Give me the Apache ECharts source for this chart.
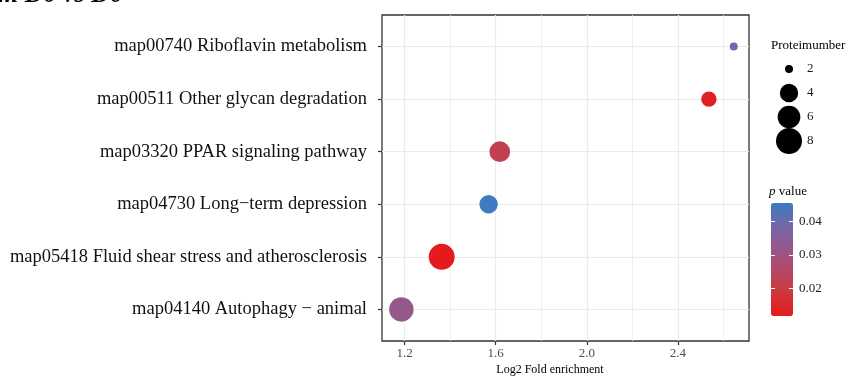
<!DOCTYPE html>
<html>
<head>
<meta charset="utf-8">
<script src="https://cdn.jsdelivr.net/npm/echarts@6/dist/echarts.min.js"></script>
<style>
  html, body { margin: 0; padding: 0; background: #fff; }
  #main { width: 854px; height: 376px; }
</style>
</head>
<body>
<div id="main"></div>
<script>
// pathways, top row first
var pathways = [
  'map00740 Riboflavin metabolism',
  'map00511 Other glycan degradation',
  'map03320 PPAR signaling pathway',
  'map04730 Long\u2212term depression',
  'map05418 Fluid shear stress and atherosclerosis',
  'map04140 Autophagy \u2212 animal'
];
var foldEnrichment = [2.645, 2.536, 1.618, 1.569, 1.363, 1.186];
var pValues = [0.0381, 0.0134, 0.0219, 0.0456, 0.0117, 0.0322];
var proteinNumbers = [2, 3, 5, 4, 8, 7];

var xMajorTicks = [1.2, 1.6, 2.0, 2.4];
var xMinorTicks = [1.4, 1.8, 2.2, 2.6];
var legendNumbers = [2, 4, 6, 8];
var pTicks = [0.02, 0.03, 0.04];

var serif = 'Liberation Serif';
var pMin = Math.min.apply(null, pValues);
var pMax = Math.max.apply(null, pValues);
var nMin = 2, nMax = 8;

// ggplot-like area scale
function dotSize(n) {
  return 8 + 18 * Math.sqrt((n - nMin) / (nMax - nMin));
}

var n = pathways.length;
var points = [];
for (var i = 0; i < n; i++) {
  points.push([foldEnrichment[i], n - i, pValues[i], proteinNumbers[i]]);
}
var rowIdx = [];
for (var i = 1; i <= n; i++) rowIdx.push(i);

var chart = echarts.init(document.getElementById('main'));
chart.setOption({
  animation: false,
  grid: [{
    left: 382, top: 15, width: 367, height: 326,
    show: true, borderColor: '#333', borderWidth: 1.3, backgroundColor: '#fff'
  }, {
    // size legend
    left: 779, top: 57, width: 20, height: 96, show: false
  }, {
    // colorbar ticks
    left: 771, top: 203, width: 22, height: 113, show: false
  }],
  xAxis: [{
    gridIndex: 0, type: 'value', min: 1.101, max: 2.712,
    axisLine: { show: false },
    axisTick: { customValues: xMajorTicks, length: 4, lineStyle: { color: '#333', width: 1.2 } },
    axisLabel: { customValues: xMajorTicks, formatter: function (v) { return v.toFixed(1); },
      fontFamily: serif, fontSize: 13, color: '#4d4d4d', margin: 6 },
    splitLine: { show: true, lineStyle: { color: '#ebebeb', width: 1.2 } }
  }, {
    gridIndex: 0, type: 'value', min: 1.101, max: 2.712, position: 'bottom',
    axisLine: { show: false },
    axisTick: { show: false, customValues: xMinorTicks },
    axisLabel: { show: false, customValues: xMinorTicks },
    splitLine: { show: true, lineStyle: { color: '#ebebeb', width: 0.8 } }
  }, {
    gridIndex: 1, type: 'value', min: 0, max: 2, show: false
  }, {
    gridIndex: 2, type: 'value', min: 0, max: 1, show: false
  }],
  yAxis: [{
    gridIndex: 0, type: 'value', min: 0.4, max: n + 0.6,
    axisLine: { show: false },
    axisTick: { customValues: rowIdx, length: 4, lineStyle: { color: '#333', width: 1.2 } },
    axisLabel: { customValues: rowIdx, formatter: function (v) { return pathways[n - v]; },
      fontFamily: serif, fontSize: 18.5, color: '#111', margin: 15 },
    splitLine: { show: true, lineStyle: { color: '#ebebeb', width: 1.2 } }
  }, {
    gridIndex: 1, type: 'category', inverse: true, position: 'right',
    data: legendNumbers.map(String),
    axisLine: { show: false }, axisTick: { show: false },
    axisLabel: { fontFamily: serif, fontSize: 13, color: '#1a1a1a', margin: 8 }
  }, {
    gridIndex: 2, type: 'value', min: pMin, max: pMax, position: 'left', z: 10,
    axisLine: { show: false },
    axisTick: { inside: true, length: 4, customValues: pTicks, lineStyle: { color: '#fff', width: 1 } },
    axisLabel: { show: false, customValues: pTicks },
    splitLine: { show: false }
  }, {
    gridIndex: 2, type: 'value', min: pMin, max: pMax, position: 'right', z: 10,
    axisLine: { show: false },
    axisTick: { inside: true, length: 4, customValues: pTicks, lineStyle: { color: '#fff', width: 1 } },
    axisLabel: { customValues: pTicks, formatter: function (v) { return v.toFixed(2); },
      fontFamily: serif, fontSize: 13, color: '#1a1a1a', margin: 6 },
    splitLine: { show: false }
  }],
  visualMap: {
    type: 'continuous', seriesIndex: 0, dimension: 2,
    min: pMin, max: pMax, calculable: false, hoverLink: false,
    left: 771, top: 203, itemWidth: 22, itemHeight: 113, padding: 0,
    inRange: { color: ['#E41A1C', '#C93C45', '#A5507A', '#7D63A2', '#3F7BBE'] }
  },
  graphic: [{
    type: 'text', left: -2, top: -18,
    style: { text: 'm D0 vs D0', fontFamily: serif, fontSize: 26, fontWeight: 'bold',
      fontStyle: 'italic', fill: '#000' }
  }, {
    type: 'text', x: 550, y: 370,
    style: { text: 'Log2 Fold enrichment', fontFamily: serif, fontSize: 12, fill: '#000',
      align: 'center', verticalAlign: 'middle' }
  }, {
    type: 'text', x: 771, y: 46,
    style: { text: 'Proteimumber', fontFamily: serif, fontSize: 13, fill: '#000',
      verticalAlign: 'middle' }
  }, {
    type: 'text', x: 769, y: 192,
    style: { text: '{i|p} value', fontFamily: serif, fontSize: 13, fill: '#000',
      verticalAlign: 'middle',
      rich: { i: { fontFamily: serif, fontSize: 13, fontStyle: 'italic', fill: '#000' } } }
  }],
  series: [{
    type: 'scatter', xAxisIndex: 0, yAxisIndex: 0,
    data: points,
    symbolSize: function (d) { return dotSize(d[3]); },
    itemStyle: { opacity: 1 }
  }, {
    type: 'scatter', xAxisIndex: 2, yAxisIndex: 1,
    data: legendNumbers.map(function (v) { return [1, String(v), v]; }),
    symbolSize: function (d) { return dotSize(d[2]); },
    itemStyle: { color: '#000', opacity: 1 }
  }]
});
</script>
</body>
</html>
